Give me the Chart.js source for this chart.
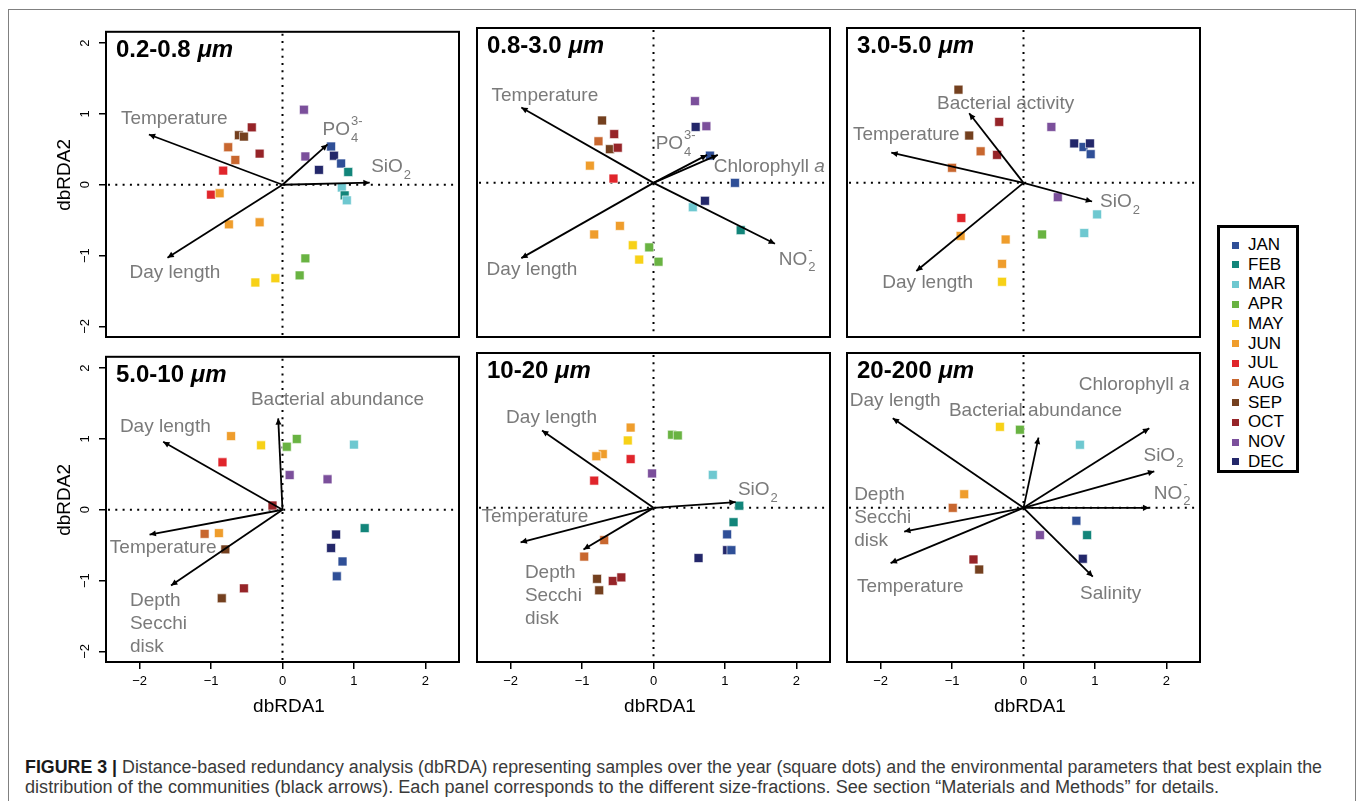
<!DOCTYPE html>
<html><head><meta charset="utf-8">
<script src="https://cdn.jsdelivr.net/npm/chart.js@4.4.1/dist/chart.umd.min.js"></script>
<style>
body{margin:0;background:#fff;width:1360px;height:801px;overflow:hidden;position:relative;font-family:"Liberation Sans",Arial,Helvetica,sans-serif;}
#frame{position:absolute;left:8px;top:9px;width:1348px;height:830px;border:1.5px solid #808080;box-sizing:border-box;}
canvas.panel{position:absolute;}
#legend{position:absolute;left:1217px;top:225px;width:82px;height:248px;border:3px solid #000;box-sizing:border-box;background:#fff;}
.li{position:absolute;left:0;height:0;}
.sw{position:absolute;left:11.5px;top:-3.5px;width:7px;height:7px;}
.lt{position:absolute;left:28px;top:-10px;font-size:17px;line-height:20px;color:#000;white-space:nowrap;}
.cap{position:absolute;left:25px;white-space:nowrap;font-size:18px;line-height:20px;color:#3a3a3a;transform-origin:0 50%;}
.cap b{color:#1a1a1a;}
</style></head>
<body>
<div id="frame"></div>
<div id="legend"></div>
<div class="cap" id="cap1" style="top:757px"><b>FIGURE 3 |</b> Distance-based redundancy analysis (dbRDA) representing samples over the year (square dots) and the environmental parameters that best explain the</div>
<div class="cap" id="cap2" style="top:777px">distribution of the communities (black arrows). Each panel corresponds to the different size-fractions. See section “Materials and Methods” for details.</div>
<script>
// ---------- data ----------
const months = ['JAN','FEB','MAR','APR','MAY','JUN','JUL','AUG','SEP','OCT','NOV','DEC'];
const monthColors = ['#2f4f97','#12857a','#6ec8d0','#69b342','#f7d117','#ef9d2c','#e0252b','#c8672f','#74401f','#962428','#7b4f9b','#23276a'];
const tickValues = [-2,-1,0,1,2];
const tickLabels = ['\u22122','\u22121','0','1','2'];
const panelTitles = ['0.2-0.8 μm','0.8-3.0 μm','3.0-5.0 μm','5.0-10 μm','10-20 μm','20-200 μm'];

// Panel 1: 0.2-0.8 µm
const p1Month = ['NOV','OCT','SEP','SEP','AUG','OCT','AUG','JUL','JAN','DEC','NOV','DEC','JAN','FEB','MAR','FEB','MAR','JUL','JUN','JUN','JUN','APR','APR','MAY','MAY'];
const p1X = [0.30,-0.43,-0.61,-0.54,-0.76,-0.32,-0.66,-0.83,0.68,0.72,0.32,0.51,0.82,0.92,0.83,0.87,0.90,-1.00,-0.88,-0.75,-0.32,0.32,0.24,-0.10,-0.38];
const p1Y = [1.06,0.81,0.70,0.68,0.53,0.44,0.35,0.20,0.54,0.41,0.40,0.21,0.30,0.18,-0.04,-0.15,-0.22,-0.14,-0.12,-0.56,-0.53,-1.04,-1.28,-1.32,-1.38];
const p1ArrowNames = ['Temperature','PO_4^3-','SiO_2','Day length'];
const p1ArrowX = [-1.87,0.63,1.22,-1.61];
const p1ArrowY = [0.71,0.57,0.03,-1.03];
const p1LabelX = [-1.515,0.84,1.52,-1.506];
const p1LabelY = [0.93,0.77,0.25,-1.245];

// Panel 2: 0.8-3.0 µm
const p2Month = ['NOV','DEC','NOV','SEP','OCT','AUG','SEP','OCT','JUN','JUL','JAN','JAN','DEC','MAR','FEB','JUN','JUN','MAY','APR','MAY','APR'];
const p2X = [0.58,0.59,0.74,-0.72,-0.55,-0.77,-0.61,-0.50,-0.89,-0.56,0.79,1.14,0.72,0.55,1.22,-0.47,-0.83,-0.29,-0.06,-0.20,0.07];
const p2Y = [1.14,0.78,0.79,0.87,0.68,0.58,0.47,0.49,0.24,0.06,0.38,0.00,-0.25,-0.34,-0.66,-0.60,-0.72,-0.87,-0.90,-1.07,-1.10];
const p2ArrowNames = ['Temperature','PO_4^3-','Chlorophyll *a*','NO_2^-','Day length'];
const p2ArrowX = [-1.85,0.75,0.90,1.70,-1.85];
const p2ArrowY = [1.05,0.39,0.39,-0.85,-1.05];
const p2LabelX = [-1.52,0.31,1.62,2.01,-1.70];
const p2LabelY = [1.21,0.54,0.224,-1.07,-1.21];

// Panel 3: 3.0-5.0 µm
const p3Month = ['SEP','OCT','SEP','AUG','OCT','AUG','NOV','DEC','JAN','DEC','JAN','NOV','MAR','MAR','APR','JUL','JUN','JUN','JUN','MAY'];
const p3X = [-0.91,-0.34,-0.76,-0.60,-0.37,-1.00,0.39,0.71,0.84,0.93,0.94,0.48,1.03,0.85,0.26,-0.87,-0.88,-0.25,-0.30,-0.30];
const p3Y = [1.30,0.85,0.66,0.44,0.39,0.21,0.78,0.55,0.50,0.55,0.40,-0.20,-0.44,-0.70,-0.72,-0.49,-0.74,-0.79,-1.13,-1.38];
const p3ArrowNames = ['Bacterial activity','Temperature','SiO_2','Day length'];
const p3ArrowX = [-0.76,-1.85,0.96,-1.50];
const p3ArrowY = [0.97,0.42,-0.26,-1.23];
const p3LabelX = [-0.25,-1.64,1.35,-1.34];
const p3LabelY = [1.11,0.676,-0.27,-1.40];

// Panel 4: 5.0-10 µm
const p4Month = ['JUN','MAY','APR','APR','MAR','JUL','NOV','NOV','OCT','FEB','AUG','JUN','SEP','DEC','DEC','JAN','JAN','OCT','SEP'];
const p4X = [-0.72,-0.30,0.06,0.20,1.00,-0.84,0.10,0.63,-0.14,1.15,-1.09,-0.89,-0.80,0.75,0.68,0.84,0.76,-0.54,-0.85];
const p4Y = [1.04,0.91,0.89,1.00,0.92,0.67,0.49,0.43,0.06,-0.26,-0.34,-0.33,-0.56,-0.35,-0.54,-0.73,-0.94,-1.11,-1.25];
const p4ArrowNames = ['Bacterial abundance','Day length','Temperature','Depth\nSecchi\ndisk'];
const p4ArrowX = [-0.06,-1.67,-1.86,-1.56];
const p4ArrowY = [1.29,0.96,-0.35,-1.07];
const p4LabelX = [0.77,-1.64,-1.67,-2.135];
const p4LabelY = [1.55,1.166,-0.536,-1.287];

// Panel 5: 10-20 µm
const p5Month = ['JUN','MAY','JUN','JUN','JUL','APR','APR','NOV','MAR','JUL','FEB','FEB','JAN','DEC','JAN','DEC','AUG','AUG','SEP','OCT','OCT','SEP'];
const p5X = [-0.32,-0.36,-0.71,-0.80,-0.32,0.26,0.34,-0.02,0.83,-0.83,1.20,1.12,1.03,1.03,1.09,0.63,-0.69,-0.97,-0.79,-0.57,-0.45,-0.76];
const p5Y = [1.12,0.94,0.75,0.72,0.68,1.02,1.01,0.48,0.46,0.38,0.03,-0.20,-0.37,-0.59,-0.59,-0.70,-0.45,-0.68,-0.99,-1.02,-0.97,-1.15];
const p5ArrowNames = ['Day length','SiO_2','Temperature','Depth\nSecchi\ndisk'];
const p5ArrowX = [-1.56,1.15,-1.86,-0.98];
const p5ArrowY = [1.08,0.08,-0.48,-0.58];
const p5LabelX = [-1.427,1.46,-1.66,-1.80];
const p5LabelY = [1.254,0.25,-0.13,-0.90];

// Panel 6: 20-200 µm
const p6Month = ['MAY','APR','MAR','JUN','AUG','JAN','FEB','NOV','DEC','OCT','SEP'];
const p6X = [-0.33,-0.05,0.79,-0.83,-0.99,0.74,0.89,0.23,0.83,-0.70,-0.62];
const p6Y = [1.13,1.09,0.88,0.19,0.00,-0.18,-0.38,-0.38,-0.71,-0.72,-0.86];
const p6ArrowNames = ['Day length','Bacterial abundance','Chlorophyll *a*','SiO_2','NO_2^-','Depth\nSecchi\ndisk','Temperature','Salinity'];
const p6ArrowX = [-1.83,0.21,1.76,1.83,1.76,-1.67,-1.86,0.97];
const p6ArrowY = [1.25,0.98,1.11,0.51,0.00,-0.33,-0.77,-0.96];
const p6LabelX = [-1.795,0.168,1.548,1.958,2.08,-2.37,-1.585,1.22];
const p6LabelY = [1.50,1.36,1.711,0.727,0.196,0.186,-1.096,-1.20];

// ---------- layout / style ----------
const family = '"Liberation Sans", Arial, Helvetica, sans-serif';
const labelColor = '#7a7a7a';
const frameLefts = [106,477,847];
const frameTops = [28,353];
const FW = 353, FH = 309, PADL = 60, PADT = 10, PADR = 10, PADB = 58;

Chart.defaults.font.family = family;

const panels = [
  {m:p1Month,x:p1X,y:p1Y,an:p1ArrowNames,ax:p1ArrowX,ay:p1ArrowY,lx:p1LabelX,ly:p1LabelY},
  {m:p2Month,x:p2X,y:p2Y,an:p2ArrowNames,ax:p2ArrowX,ay:p2ArrowY,lx:p2LabelX,ly:p2LabelY},
  {m:p3Month,x:p3X,y:p3Y,an:p3ArrowNames,ax:p3ArrowX,ay:p3ArrowY,lx:p3LabelX,ly:p3LabelY},
  {m:p4Month,x:p4X,y:p4Y,an:p4ArrowNames,ax:p4ArrowX,ay:p4ArrowY,lx:p4LabelX,ly:p4LabelY},
  {m:p5Month,x:p5X,y:p5Y,an:p5ArrowNames,ax:p5ArrowX,ay:p5ArrowY,lx:p5LabelX,ly:p5LabelY},
  {m:p6Month,x:p6X,y:p6Y,an:p6ArrowNames,ax:p6ArrowX,ay:p6ArrowY,lx:p6LabelX,ly:p6LabelY}
];
const panelInfo = {};

function parseLabel(s){
  let main=s, sub='', sup='', ital='';
  const it=main.indexOf('*');
  if(it>=0){ ital=main.slice(it+1).replace(/\*/g,''); main=main.slice(0,it); }
  const iu=main.indexOf('_');
  if(iu>=0){ let r=main.slice(iu+1); main=main.slice(0,iu); const ic=r.indexOf('^'); if(ic>=0){ sup=r.slice(ic+1); r=r.slice(0,ic);} sub=r; }
  return {main,sub,sup,ital};
}
function drawLabel(ctx,text,x,y){
  const lines=text.split('\n');
  const left = lines.length>1;
  lines.forEach((ln,k)=>{
    const p=parseLabel(ln);
    ctx.font='19px '+family; const wm=ctx.measureText(p.main).width;
    ctx.font='italic 19px '+family; const wi=p.ital?ctx.measureText(p.ital).width:0;
    ctx.font='13px '+family;
    const ws=Math.max(p.sub?ctx.measureText(p.sub).width:0,p.sup?ctx.measureText(p.sup).width:0);
    const w=wm+wi+ws+(ws?1:0);
    const x0=left?x:x-w/2;
    const yy=y+k*23;
    ctx.textAlign='left'; ctx.textBaseline='middle'; ctx.fillStyle=labelColor;
    ctx.font='19px '+family; ctx.fillText(p.main,x0,yy);
    if(p.ital){ ctx.font='italic 19px '+family; ctx.fillText(p.ital,x0+wm,yy); }
    ctx.font='13px '+family;
    if(p.sub) ctx.fillText(p.sub,x0+wm+1,yy+8);
    if(p.sup) ctx.fillText(p.sup,x0+wm+1,yy-9);
  });
}

const biplot = {
  id:'biplot',
  beforeDatasetsDraw(chart){
    const {ctx, chartArea:a, scales:{x,y}} = chart;
    const x0=x.getPixelForValue(0), y0=y.getPixelForValue(0);
    ctx.save();
    ctx.strokeStyle='#000'; ctx.lineWidth=2; ctx.setLineDash([2,5.3]);
    ctx.beginPath();
    ctx.moveTo(x0,a.top+2); ctx.lineTo(x0,a.bottom);
    ctx.moveTo(a.left+2,y0); ctx.lineTo(a.right,y0);
    ctx.stroke();
    ctx.restore();
  },
  afterDatasetsDraw(chart){
    const info=panelInfo[chart.canvas.id];
    const {ctx, chartArea:a, scales:{x,y}} = chart;
    const x0=x.getPixelForValue(0), y0=y.getPixelForValue(0);
    ctx.save();
    // arrowheads
    ctx.fillStyle='#000';
    info.ax.forEach((vx,i)=>{
      const x1=x.getPixelForValue(vx), y1=y.getPixelForValue(info.ay[i]);
      const ang=Math.atan2(y1-y0,x1-x0), L=7, W=Math.PI/7;
      ctx.beginPath(); ctx.moveTo(x1,y1);
      ctx.lineTo(x1-L*Math.cos(ang-W),y1-L*Math.sin(ang-W));
      ctx.lineTo(x1-L*Math.cos(ang+W),y1-L*Math.sin(ang+W));
      ctx.closePath(); ctx.fill();
    });
    // arrow labels
    info.an.forEach((t,i)=>{
      drawLabel(ctx,t,x.getPixelForValue(info.lx[i]),y.getPixelForValue(info.ly[i]));
    });
    // frame
    ctx.strokeStyle='#000'; ctx.lineWidth=2; ctx.setLineDash([]);
    ctx.strokeRect(a.left,a.top,a.right-a.left,a.bottom-a.top);
    // panel title
    const parts=info.title.split(' ');
    ctx.fillStyle='#000'; ctx.textAlign='left'; ctx.textBaseline='alphabetic';
    ctx.font='bold 24px '+family;
    const t1=parts[0]+' ';
    ctx.fillText(t1,a.left+10,a.top+25);
    const w1=ctx.measureText(t1).width;
    ctx.font='italic bold 24px '+family;
    ctx.fillText(parts[1],a.left+10+w1,a.top+25);
    // axis titles
    ctx.font='19px '+family; ctx.textAlign='center'; ctx.textBaseline='middle';
    if(info.showX){ ctx.fillText('dbRDA1',(a.left+a.right)/2+6.5,a.bottom+45); }
    if(info.showY){
      ctx.translate(a.left-41,(a.top+a.bottom)/2-9.5); ctx.rotate(-Math.PI/2);
      ctx.fillText('dbRDA2',0,0);
    }
    ctx.restore();
  }
};

panels.forEach((p,i)=>{
  const col=i%3, row=Math.floor(i/3);
  const cv=document.createElement('canvas');
  cv.id='panel'+i; cv.className='panel';
  const W=FW+PADL+PADR, H=FH+PADT+PADB;
  cv.width=W; cv.height=H;
  cv.style.width=W+'px'; cv.style.height=H+'px';
  cv.style.left=(frameLefts[col]-PADL)+'px'; cv.style.top=(frameTops[row]-PADT)+'px';
  document.body.appendChild(cv);
  const showX=row===1, showY=col===0;
  panelInfo[cv.id]=Object.assign({},p,{title:panelTitles[i],showX,showY});
  const arrowSets=p.ax.map((vx,k)=>({
    data:[{x:0,y:0},{x:vx,y:p.ay[k]}],
    showLine:true, borderColor:'#000', borderWidth:1.8, pointRadius:0, order:0, clip:false
  }));
  const pointSet={
    data:p.x.map((vx,k)=>({x:vx,y:p.y[k]})),
    pointStyle:'rect', pointRadius:6.3,
    pointBackgroundColor:p.m.map(m=>monthColors[months.indexOf(m)]),
    pointBorderColor:'rgba(255,255,255,0.75)', pointBorderWidth:0.8,
    order:1
  };
  new Chart(cv,{
    type:'scatter',
    data:{datasets:[...arrowSets,pointSet]},
    options:{
      responsive:false, animation:false, devicePixelRatio:1, events:[],
      layout:{padding:{left:0,top:PADT,right:PADR,bottom:0}},
      plugins:{legend:{display:false},tooltip:{enabled:false},title:{display:false}},
      scales:{
        x:{type:'linear',position:'bottom',min:-2.47,max:2.47,
          afterBuildTicks:s=>{s.ticks=tickValues.map(v=>({value:v}));},
          afterFit:s=>{s.height=PADB;},
          grid:{display:showX,drawOnChartArea:false,drawTicks:true,tickLength:7,color:'#000',lineWidth:1.5},
          border:{display:false},
          ticks:{display:showX,autoSkip:false,maxRotation:0,minRotation:0,padding:5,color:'#000',font:{size:13,family},
            callback:(v,k)=>tickLabels[k]},
          title:{display:false}},
        y:{type:'linear',position:'left',min:-2.15,max:2.16,
          afterBuildTicks:s=>{s.ticks=tickValues.map(v=>({value:v}));},
          afterFit:s=>{s.width=PADL;},
          grid:{display:showY,drawOnChartArea:false,drawTicks:true,tickLength:7,color:'#000',lineWidth:1.5},
          border:{display:false},
          ticks:{display:showY,autoSkip:false,minRotation:90,maxRotation:90,crossAlign:'center',padding:6,color:'#000',font:{size:13,family},
            callback:(v,k)=>tickLabels[k]},
          title:{display:false}}
      }
    },
    plugins:[biplot]
  });
});

// legend
const lg=document.getElementById('legend');
months.forEach((m,i)=>{
  const d=document.createElement('div'); d.className='li'; d.style.top=(17+i*19.7)+'px';
  d.innerHTML='<span class="sw" style="background:'+monthColors[i]+'"></span><span class="lt">'+m+'</span>';
  lg.appendChild(d);
});

// caption width fitting
[['cap1',1297],['cap2',1194]].forEach(([id,target])=>{
  const el=document.getElementById(id);
  const w=el.getBoundingClientRect().width;
  el.style.transform='scaleX('+(target/w)+')';
});
</script>
</body></html>
